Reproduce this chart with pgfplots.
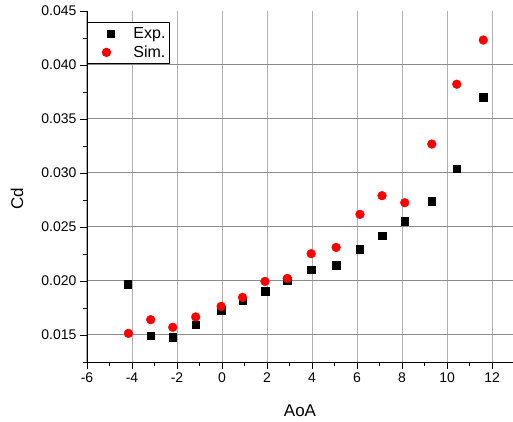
\documentclass[border=0pt]{standalone}
\usepackage{fontspec}
\setmainfont{Liberation Sans}
\usepackage{pgfplots}
\pgfplotsset{compat=1.18}
\definecolor{vgrid}{RGB}{176,176,176}
\definecolor{hgrid}{RGB}{140,140,140}
\begin{document}
\begin{tikzpicture}
\begin{axis}[
  scale only axis,
  width=426pt, height=351pt,
  xmin=-6, xmax=12.93,
  ymin=0.0125, ymax=0.045,
  axis x line=bottom, axis y line=left,
  axis line style={-, line width=0.9pt, black},
  xtick={-6,-4,...,12},
  minor x tick num=1,
  ytick={0.015,0.020,...,0.0401},
  extra y ticks={0.045},
  extra y tick style={grid=none},
  minor ytick={0.0125,0.0175,...,0.043},
  tick align=outside,
  major tick length=7pt, minor tick length=4pt,
  every tick/.style={black, line width=0.9pt},
  grid=major,
  x grid style={vgrid, line width=1pt},
  y grid style={hgrid, line width=1pt},
  /pgf/number format/assume math mode=true,
  tick label style={font=\fontsize{14}{16}\selectfont},
  yticklabel style={/pgf/number format/.cd, fixed, fixed zerofill, precision=3},
  scaled y ticks=false,
  xlabel={AoA}, ylabel={Cd},
  every axis x label/.style={at={([yshift=-49pt]rel axis cs:0.5,0)}, anchor=center, font=\fontsize{17}{19}\selectfont},
  every axis y label/.style={at={([xshift=-70pt]rel axis cs:0,0.464)}, anchor=center, rotate=90, font=\fontsize{17}{19}\selectfont},
  legend style={at={(rel axis cs:0,0.969)}, anchor=north west, draw=black, line width=0.9pt,
    font=\fontsize{16}{18}\selectfont, inner xsep=2pt, inner ysep=4pt, row sep=4pt,
    nodes={inner xsep=2pt, inner ysep=1pt}},
  legend cell align=left,
  clip=false,
]
\addplot[only marks, mark=square*, mark size=3.7pt, black,
  legend image code/.code={\path[draw=none,fill=none] (0pt,0pt) -- (42pt,0pt); \node[fill=black, draw=none, minimum size=8pt, inner sep=0pt] at (17pt,0pt) {};}] coordinates {
(-4.18,0.01969) (-3.17,0.01494) (-2.19,0.01481) (-1.17,0.01598) (-0.04,0.01728)
(0.91,0.0182) (1.91,0.01904) (2.90,0.02003) (3.96,0.02102) (5.07,0.02145)
(6.13,0.02293) (7.12,0.02422) (8.12,0.02552) (9.33,0.02737) (10.43,0.0304) (11.61,0.0370)
};
\addlegendentry{Exp.}
\addplot[only marks, mark=*, mark size=4.4pt, red, mark options={draw=red, fill=red},
  legend image code/.code={\path[draw=none,fill=none] (0pt,0pt) -- (42pt,0pt); \fill[red, draw=none] (17pt,0pt) circle[radius=4.7pt];}] coordinates {
(-4.16,0.01515) (-3.17,0.01642) (-2.19,0.01571) (-1.17,0.01667) (-0.04,0.01765)
(0.91,0.01848) (1.91,0.01996) (2.90,0.02024) (3.96,0.02253) (5.07,0.02311)
(6.13,0.02617) (7.11,0.0279) (8.12,0.02725) (9.32,0.03268) (10.43,0.03822) (11.61,0.04231)
};
\addlegendentry{Sim.}
\coordinate (bl) at (rel axis cs:0,0);
\coordinate (tr) at (rel axis cs:1,1);
\end{axis}
\pgfresetboundingbox
\path[use as bounding box] ([shift={(-87pt,-60pt)}]bl) rectangle ([shift={(0pt,11pt)}]tr);
\end{tikzpicture}
\end{document}
